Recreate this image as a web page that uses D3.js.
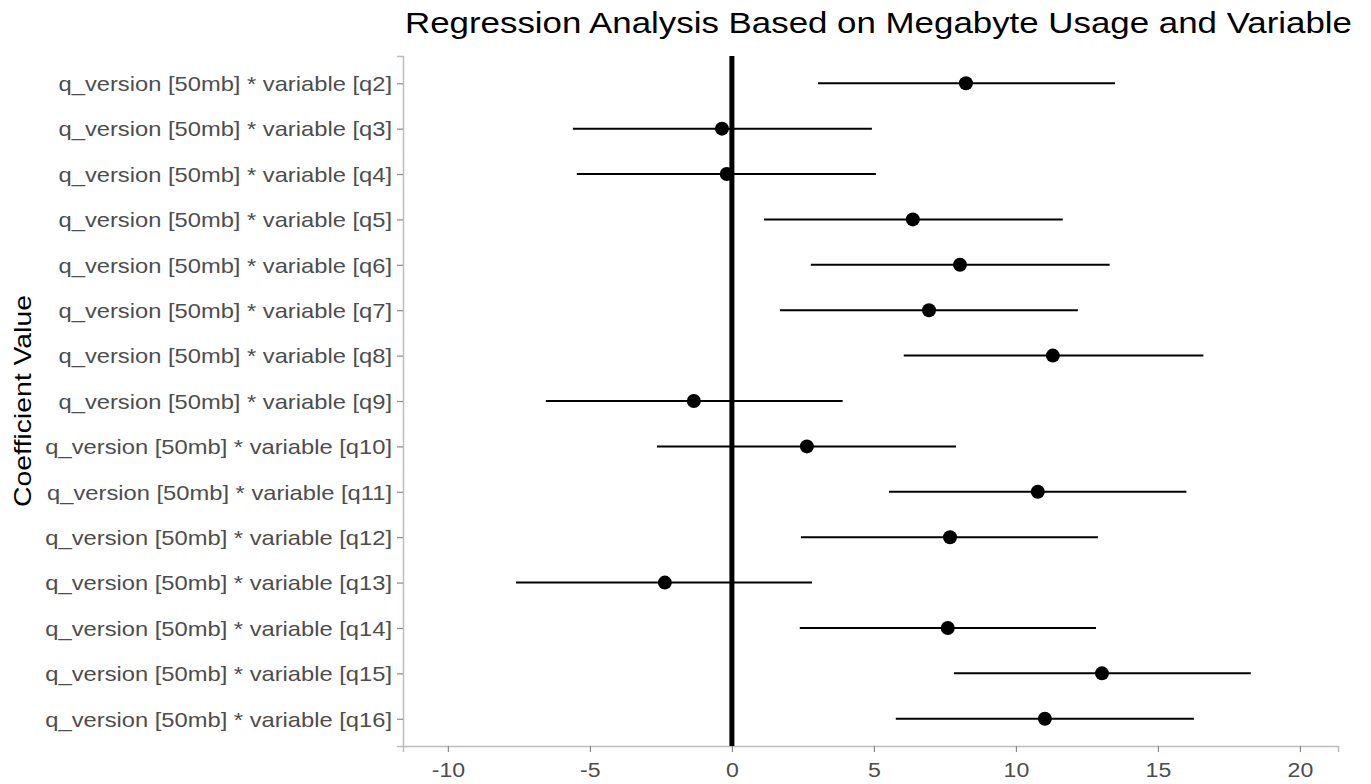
<!DOCTYPE html>
<html>
<head>
<meta charset="utf-8">
<script src="https://cdn.jsdelivr.net/npm/d3@7"></script>
<style>
  body { margin: 0; background: #fff; }
  svg { font-family: "Liberation Sans", Arial, sans-serif; }
</style>
</head>
<body>
<svg width="1371" height="784"></svg>
<script>
// terms, point estimates and interval ends
const terms = ["q2", "q3", "q4", "q5", "q6", "q7", "q8", "q9", "q10", "q11", "q12", "q13", "q14", "q15", "q16"];
const estimates = [8.24, -0.35, -0.18, 6.37, 8.03, 6.94, 11.3, -1.34, 2.64, 10.77, 7.68, -2.36, 7.6, 13.03, 11.02];
const lower = [3.03, -5.6, -5.46, 1.13, 2.78, 1.69, 6.05, -6.55, -2.64, 5.53, 2.43, -7.6, 2.39, 7.82, 5.77];
const upper = [13.49, 4.93, 5.07, 11.65, 13.3, 12.18, 16.6, 3.9, 7.89, 16.0, 12.89, 2.82, 12.82, 18.27, 16.27];
const xTicks = [-10, -5, 0, 5, 10, 15, 20];

const labels = terms.map(t => `q_version [50mb] * variable [${t}]`);
const rows = labels.map((l, i) => ({ label: l, est: estimates[i], lo: lower[i], hi: upper[i] }));

const svg = d3.select("svg");
const margin = { left: 403, right: 33, top: 56, bottom: 38 };
const width = 1371, height = 784;
const stretch = 1.13; // reference text is a bit wider than plain Arial

const x = d3.scaleLinear()
    .domain([-11.58, 21.34])
    .range([margin.left, width - margin.right]);

const y = d3.scalePoint()
    .domain(labels)
    .range([margin.top, height - margin.bottom])
    .padding(0.6);

// axes
const xAxis = svg.append("g")
    .attr("transform", `translate(0,${height - margin.bottom})`)
    .call(d3.axisBottom(x).tickValues(xTicks).tickSize(6).tickPadding(7).tickFormat(d => String(d)));
const yAxis = svg.append("g")
    .attr("transform", `translate(${margin.left},0)`)
    .call(d3.axisLeft(y).tickSize(6).tickPadding(5));

[xAxis, yAxis].forEach(g => {
    g.select(".domain").attr("stroke", "#bdbdbd").attr("stroke-width", 1.5);
    g.selectAll(".tick line").attr("stroke", "#8a8a8a").attr("stroke-width", 1.2);
    g.selectAll(".tick text")
        .attr("fill", "#4d4d4d")
        .attr("font-size", 21)
        .attr("font-family", "Liberation Sans, Arial, sans-serif");
});
yAxis.selectAll(".tick text")
    .attr("dy", "0.35em")
    .attr("x", -11 / stretch)
    .attr("transform", `scale(${stretch},1)`);
xAxis.selectAll(".tick text")
    .attr("dy", "0.85em")
    .attr("transform", "scale(1.1,1)");

// reference line at zero
svg.append("line")
    .attr("x1", x(0)).attr("x2", x(0))
    .attr("y1", margin.top).attr("y2", height - margin.bottom)
    .attr("stroke", "#000")
    .attr("stroke-width", 5);

// intervals
svg.append("g")
    .selectAll("line")
    .data(rows)
    .enter()
    .append("line")
    .attr("x1", d => x(d.lo))
    .attr("x2", d => x(d.hi))
    .attr("y1", d => y(d.label))
    .attr("y2", d => y(d.label))
    .attr("stroke", "#000")
    .attr("stroke-width", 2);

// points
svg.append("g")
    .selectAll("circle")
    .data(rows)
    .enter()
    .append("circle")
    .attr("cx", d => x(d.est))
    .attr("cy", d => y(d.label))
    .attr("r", 7)
    .attr("fill", "#000");

// title
svg.append("text")
    .attr("x", 405)
    .attr("y", 33)
    .attr("font-size", 29)
    .attr("fill", "#000")
    .attr("textLength", 947)
    .attr("lengthAdjust", "spacingAndGlyphs")
    .text("Regression Analysis Based on Megabyte Usage and Variable");

// y axis title
svg.append("text")
    .attr("transform", `translate(31,${(margin.top + height - margin.bottom) / 2}) rotate(-90)`)
    .attr("x", -106)
    .attr("font-size", 24)
    .attr("fill", "#000")
    .attr("textLength", 212)
    .attr("lengthAdjust", "spacingAndGlyphs")
    .text("Coefficient Value");
</script>
</body>
</html>
